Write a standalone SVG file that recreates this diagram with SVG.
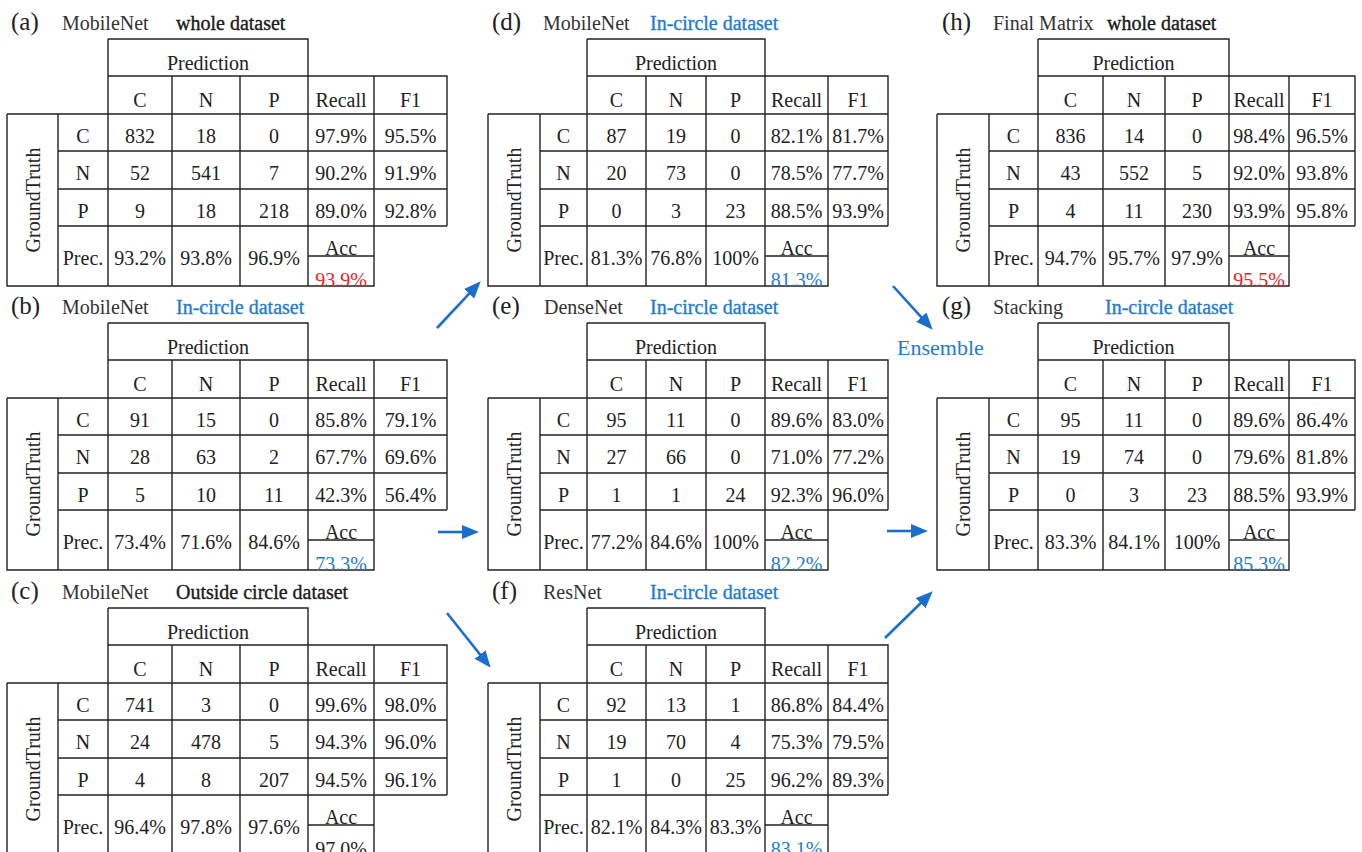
<svg xmlns="http://www.w3.org/2000/svg" xmlns:xlink="http://www.w3.org/1999/xlink" width="1362" height="852" viewBox="0 0 1362 852">
<style>
.ln{fill:none;stroke:#222;stroke-width:1.4}
text{font-family:"Liberation Serif",Tinos,"Noto Serif","DejaVu Serif",FreeSerif,"Nimbus Roman","Times New Roman",Times,serif;font-size:20px;fill:#222}
.c{text-anchor:middle}
.lab{font-size:25px}
.ttl{fill:#333}
.ds{stroke:#111;stroke-width:0.35}
.blue{fill:#1f7bd1}
.ds.blue{stroke:#1f7bd1}
.red{fill:#ee1c1c}
.arr{stroke:#1b6fcc;stroke-width:2.6;fill:none;marker-end:url(#ah)}
</style>
<defs>
<marker id="ah" markerUnits="userSpaceOnUse" markerWidth="17" markerHeight="15" refX="6" refY="7" orient="auto"><path d="M0,0 L17,7 L0,14 z" fill="#1b6fcc"/></marker>
<path id="gridA" class="ln" d="M101,0H301V247 M101,0V247 M101,37H440V187 M0,75H440 M0,75V247H367V37 M51,75V247 M165,37V247 M233,37V247 M51,112H440 M51,150H440 M51,187H440 M301,217H367"/>
<path id="gridD" class="ln" d="M99,0H277V247 M99,0V247 M99,37H400V187 M0,75H400 M0,75V247H340V37 M52,75V247 M158,37V247 M218,37V247 M52,112H400 M52,150H400 M52,187H400 M277,217H340"/>
<path id="gridH" class="ln" d="M101,0H292V247 M101,0V247 M101,37H418V187 M0,75H418 M0,75V247H352V37 M52,75V247 M166,37V247 M228,37V247 M52,112H418 M52,150H418 M52,187H418 M292,217H352"/>
</defs>

<g id="table-a" transform="translate(7,39)">
<text class="lab" x="4" y="-9">(a)</text><text class="ttl" x="55" y="-9">MobileNet</text><text class="ds" x="169" y="-9">whole dataset</text>
<use xlink:href="#gridA"/>
<g class="c">
<text x="201" y="31">Prediction</text>
<text x="133" y="68">C</text><text x="199" y="68">N</text><text x="267" y="68">P</text><text x="334" y="68">Recall</text><text x="403.5" y="68">F1</text>
<text x="76" y="104">C</text><text x="133" y="104">832</text><text x="199" y="104">18</text><text x="267" y="104">0</text><text x="334" y="104">97.9%</text><text x="403.5" y="104">95.5%</text>
<text x="76" y="141">N</text><text x="133" y="141">52</text><text x="199" y="141">541</text><text x="267" y="141">7</text><text x="334" y="141">90.2%</text><text x="403.5" y="141">91.9%</text>
<text x="76" y="179">P</text><text x="133" y="179">9</text><text x="199" y="179">18</text><text x="267" y="179">218</text><text x="334" y="179">89.0%</text><text x="403.5" y="179">92.8%</text>
<text x="76" y="226">Prec.</text><text x="133" y="226">93.2%</text><text x="199" y="226">93.8%</text><text x="267" y="226">96.9%</text>
<text x="334" y="216">Acc</text>
<text transform="translate(33,161) rotate(-90)">GroundTruth</text>
</g>
<svg x="301" y="217" width="66" height="30"><text class="c red" x="33" y="31">93.9%</text></svg>
</g>

<g id="table-b" transform="translate(7,323)">
<text class="lab" x="4" y="-9">(b)</text><text class="ttl" x="55" y="-9">MobileNet</text><text class="ds blue" x="169" y="-9">In-circle dataset</text>
<use xlink:href="#gridA"/>
<g class="c">
<text x="201" y="31">Prediction</text>
<text x="133" y="68">C</text><text x="199" y="68">N</text><text x="267" y="68">P</text><text x="334" y="68">Recall</text><text x="403.5" y="68">F1</text>
<text x="76" y="104">C</text><text x="133" y="104">91</text><text x="199" y="104">15</text><text x="267" y="104">0</text><text x="334" y="104">85.8%</text><text x="403.5" y="104">79.1%</text>
<text x="76" y="141">N</text><text x="133" y="141">28</text><text x="199" y="141">63</text><text x="267" y="141">2</text><text x="334" y="141">67.7%</text><text x="403.5" y="141">69.6%</text>
<text x="76" y="179">P</text><text x="133" y="179">5</text><text x="199" y="179">10</text><text x="267" y="179">11</text><text x="334" y="179">42.3%</text><text x="403.5" y="179">56.4%</text>
<text x="76" y="226">Prec.</text><text x="133" y="226">73.4%</text><text x="199" y="226">71.6%</text><text x="267" y="226">84.6%</text>
<text x="334" y="216">Acc</text>
<text transform="translate(33,161) rotate(-90)">GroundTruth</text>
</g>
<svg x="301" y="217" width="66" height="30"><text class="c blue" x="33" y="31">73.3%</text></svg>
</g>

<g id="table-c" transform="translate(7,608)">
<text class="lab" x="4" y="-9">(c)</text><text class="ttl" x="55" y="-9">MobileNet</text><text class="ds" x="169" y="-9">Outside circle dataset</text>
<use xlink:href="#gridA"/>
<g class="c">
<text x="201" y="31">Prediction</text>
<text x="133" y="68">C</text><text x="199" y="68">N</text><text x="267" y="68">P</text><text x="334" y="68">Recall</text><text x="403.5" y="68">F1</text>
<text x="76" y="104">C</text><text x="133" y="104">741</text><text x="199" y="104">3</text><text x="267" y="104">0</text><text x="334" y="104">99.6%</text><text x="403.5" y="104">98.0%</text>
<text x="76" y="141">N</text><text x="133" y="141">24</text><text x="199" y="141">478</text><text x="267" y="141">5</text><text x="334" y="141">94.3%</text><text x="403.5" y="141">96.0%</text>
<text x="76" y="179">P</text><text x="133" y="179">4</text><text x="199" y="179">8</text><text x="267" y="179">207</text><text x="334" y="179">94.5%</text><text x="403.5" y="179">96.1%</text>
<text x="76" y="226">Prec.</text><text x="133" y="226">96.4%</text><text x="199" y="226">97.8%</text><text x="267" y="226">97.6%</text>
<text x="334" y="216">Acc</text>
<text transform="translate(33,161) rotate(-90)">GroundTruth</text>
</g>
<svg x="301" y="217" width="66" height="30"><text class="c" x="33" y="31">97.0%</text></svg>
</g>

<g id="table-d" transform="translate(488,39)">
<text class="lab" x="4" y="-9">(d)</text><text class="ttl" x="55" y="-9">MobileNet</text><text class="ds blue" x="162" y="-9">In-circle dataset</text>
<use xlink:href="#gridD"/>
<g class="c">
<text x="188" y="31">Prediction</text>
<text x="128.5" y="68">C</text><text x="188" y="68">N</text><text x="247.5" y="68">P</text><text x="308.5" y="68">Recall</text><text x="370" y="68">F1</text>
<text x="75.5" y="104">C</text><text x="128.5" y="104">87</text><text x="188" y="104">19</text><text x="247.5" y="104">0</text><text x="308.5" y="104">82.1%</text><text x="370" y="104">81.7%</text>
<text x="75.5" y="141">N</text><text x="128.5" y="141">20</text><text x="188" y="141">73</text><text x="247.5" y="141">0</text><text x="308.5" y="141">78.5%</text><text x="370" y="141">77.7%</text>
<text x="75.5" y="179">P</text><text x="128.5" y="179">0</text><text x="188" y="179">3</text><text x="247.5" y="179">23</text><text x="308.5" y="179">88.5%</text><text x="370" y="179">93.9%</text>
<text x="75.5" y="226">Prec.</text><text x="128.5" y="226">81.3%</text><text x="188" y="226">76.8%</text><text x="247.5" y="226">100%</text>
<text x="308.5" y="216">Acc</text>
<text transform="translate(33,161) rotate(-90)">GroundTruth</text>
</g>
<svg x="277" y="217" width="63" height="30"><text class="c blue" x="31.5" y="31">81.3%</text></svg>
</g>

<g id="table-e" transform="translate(488,323)">
<text class="lab" x="4" y="-9">(e)</text><text class="ttl" x="56" y="-9">DenseNet</text><text class="ds blue" x="162" y="-9">In-circle dataset</text>
<use xlink:href="#gridD"/>
<g class="c">
<text x="188" y="31">Prediction</text>
<text x="128.5" y="68">C</text><text x="188" y="68">N</text><text x="247.5" y="68">P</text><text x="308.5" y="68">Recall</text><text x="370" y="68">F1</text>
<text x="75.5" y="104">C</text><text x="128.5" y="104">95</text><text x="188" y="104">11</text><text x="247.5" y="104">0</text><text x="308.5" y="104">89.6%</text><text x="370" y="104">83.0%</text>
<text x="75.5" y="141">N</text><text x="128.5" y="141">27</text><text x="188" y="141">66</text><text x="247.5" y="141">0</text><text x="308.5" y="141">71.0%</text><text x="370" y="141">77.2%</text>
<text x="75.5" y="179">P</text><text x="128.5" y="179">1</text><text x="188" y="179">1</text><text x="247.5" y="179">24</text><text x="308.5" y="179">92.3%</text><text x="370" y="179">96.0%</text>
<text x="75.5" y="226">Prec.</text><text x="128.5" y="226">77.2%</text><text x="188" y="226">84.6%</text><text x="247.5" y="226">100%</text>
<text x="308.5" y="216">Acc</text>
<text transform="translate(33,161) rotate(-90)">GroundTruth</text>
</g>
<svg x="277" y="217" width="63" height="30"><text class="c blue" x="31.5" y="31">82.2%</text></svg>
</g>

<g id="table-f" transform="translate(488,608)">
<text class="lab" x="4" y="-9">(f)</text><text class="ttl" x="55" y="-9">ResNet</text><text class="ds blue" x="162" y="-9">In-circle dataset</text>
<use xlink:href="#gridD"/>
<g class="c">
<text x="188" y="31">Prediction</text>
<text x="128.5" y="68">C</text><text x="188" y="68">N</text><text x="247.5" y="68">P</text><text x="308.5" y="68">Recall</text><text x="370" y="68">F1</text>
<text x="75.5" y="104">C</text><text x="128.5" y="104">92</text><text x="188" y="104">13</text><text x="247.5" y="104">1</text><text x="308.5" y="104">86.8%</text><text x="370" y="104">84.4%</text>
<text x="75.5" y="141">N</text><text x="128.5" y="141">19</text><text x="188" y="141">70</text><text x="247.5" y="141">4</text><text x="308.5" y="141">75.3%</text><text x="370" y="141">79.5%</text>
<text x="75.5" y="179">P</text><text x="128.5" y="179">1</text><text x="188" y="179">0</text><text x="247.5" y="179">25</text><text x="308.5" y="179">96.2%</text><text x="370" y="179">89.3%</text>
<text x="75.5" y="226">Prec.</text><text x="128.5" y="226">82.1%</text><text x="188" y="226">84.3%</text><text x="247.5" y="226">83.3%</text>
<text x="308.5" y="216">Acc</text>
<text transform="translate(33,161) rotate(-90)">GroundTruth</text>
</g>
<svg x="277" y="217" width="63" height="30"><text class="c blue" x="31.5" y="31">83.1%</text></svg>
</g>

<g id="table-h" transform="translate(937,39)">
<text class="lab" x="5" y="-9">(h)</text><text class="ttl" x="56" y="-9">Final Matrix</text><text class="ds" x="170" y="-9">whole dataset</text>
<use xlink:href="#gridH"/>
<g class="c">
<text x="196.5" y="31">Prediction</text>
<text x="133.5" y="68">C</text><text x="197" y="68">N</text><text x="260" y="68">P</text><text x="322" y="68">Recall</text><text x="385" y="68">F1</text>
<text x="76.5" y="104">C</text><text x="133.5" y="104">836</text><text x="197" y="104">14</text><text x="260" y="104">0</text><text x="322" y="104">98.4%</text><text x="385" y="104">96.5%</text>
<text x="76.5" y="141">N</text><text x="133.5" y="141">43</text><text x="197" y="141">552</text><text x="260" y="141">5</text><text x="322" y="141">92.0%</text><text x="385" y="141">93.8%</text>
<text x="76.5" y="179">P</text><text x="133.5" y="179">4</text><text x="197" y="179">11</text><text x="260" y="179">230</text><text x="322" y="179">93.9%</text><text x="385" y="179">95.8%</text>
<text x="76.5" y="226">Prec.</text><text x="133.5" y="226">94.7%</text><text x="197" y="226">95.7%</text><text x="260" y="226">97.9%</text>
<text x="322" y="216">Acc</text>
<text transform="translate(33,161) rotate(-90)">GroundTruth</text>
</g>
<svg x="292" y="217" width="60" height="30"><text class="c red" x="30" y="31">95.5%</text></svg>
</g>

<g id="table-g" transform="translate(937,323)">
<text class="lab" x="5" y="-9">(g)</text><text class="ttl" x="56" y="-9">Stacking</text><text class="ds blue" x="168" y="-9">In-circle dataset</text>
<use xlink:href="#gridH"/>
<g class="c">
<text x="196.5" y="31">Prediction</text>
<text x="133.5" y="68">C</text><text x="197" y="68">N</text><text x="260" y="68">P</text><text x="322" y="68">Recall</text><text x="385" y="68">F1</text>
<text x="76.5" y="104">C</text><text x="133.5" y="104">95</text><text x="197" y="104">11</text><text x="260" y="104">0</text><text x="322" y="104">89.6%</text><text x="385" y="104">86.4%</text>
<text x="76.5" y="141">N</text><text x="133.5" y="141">19</text><text x="197" y="141">74</text><text x="260" y="141">0</text><text x="322" y="141">79.6%</text><text x="385" y="141">81.8%</text>
<text x="76.5" y="179">P</text><text x="133.5" y="179">0</text><text x="197" y="179">3</text><text x="260" y="179">23</text><text x="322" y="179">88.5%</text><text x="385" y="179">93.9%</text>
<text x="76.5" y="226">Prec.</text><text x="133.5" y="226">83.3%</text><text x="197" y="226">84.1%</text><text x="260" y="226">100%</text>
<text x="322" y="216">Acc</text>
<text transform="translate(33,161) rotate(-90)">GroundTruth</text>
</g>
<svg x="292" y="217" width="60" height="30"><text class="c blue" x="30" y="31">85.3%</text></svg>
</g>

<g id="ensemble-label"><text class="blue" x="897" y="355" style="font-size:22px">Ensemble</text></g>

<g id="connectors">
<line class="arr" x1="437" y1="328" x2="473.2" y2="289.3"/>
<line class="arr" x1="438" y1="532" x2="468" y2="532"/>
<line class="arr" x1="447" y1="613" x2="483.8" y2="659.2"/>
<line class="arr" x1="893" y1="286" x2="925.3" y2="321.6"/>
<line class="arr" x1="887" y1="531" x2="917" y2="531"/>
<line class="arr" x1="885" y1="638" x2="924.9" y2="599"/>
</g>
</svg>
